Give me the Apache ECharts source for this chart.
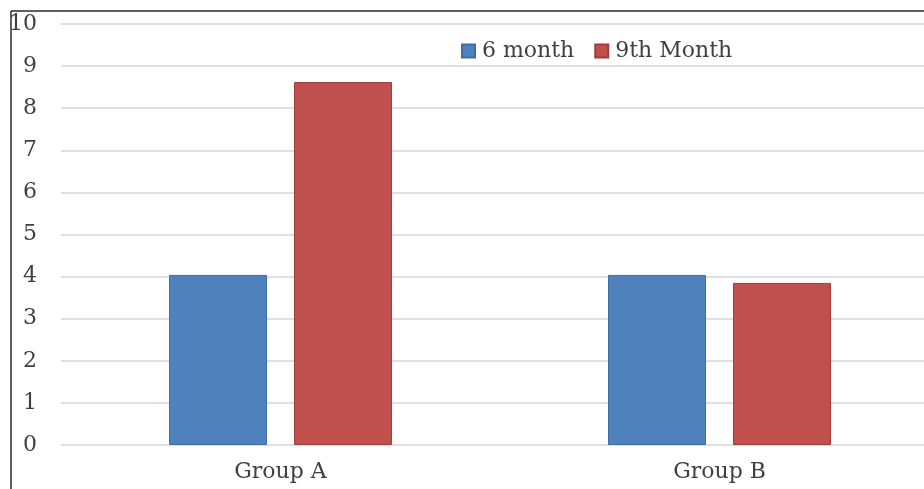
<!DOCTYPE html>
<html>
<head>
<meta charset="utf-8">
<script src="https://cdn.jsdelivr.net/npm/echarts@6/dist/echarts.min.js"></script>
<style>
html,body{margin:0;padding:0;background:#fff;overflow:hidden;width:924px;height:489px;}
#chart{width:940px;height:489px;}
</style>
</head>
<body>
<div id="chart"></div>
<script>
var categories = ['Group A', 'Group B'];
var seriesNames = ['6 month', '9th Month'];
var sixMonth = [4.04, 4.04];
var ninthMonth = [8.62, 3.85];
var yTicks = [0, 1, 2, 3, 4, 5, 6, 7, 8, 9, 10];

var FONT = '"DejaVu Serif", "Liberation Serif", serif';
var chart = echarts.init(document.getElementById('chart'), null, {renderer: 'canvas'});
chart.setOption({
  animation: false,
  backgroundColor: '#ffffff',
  grid: {left: 61, top: 24, width: 878, bottom: 44, containLabel: false},
  legend: {
    left: 461, top: 40, padding: 0,
    itemWidth: 13, itemHeight: 13, itemGap: 20,
    icon: 'rect',
    textStyle: {fontFamily: FONT, fontSize: 22, color: '#404040', padding: [0, 0, 0, 2], lineHeight: 22},
    data: seriesNames
  },
  xAxis: {
    type: 'category',
    data: categories,
    axisLine: {show: false},
    axisTick: {show: false},
    axisLabel: {fontFamily: FONT, fontSize: 22, color: '#404040', margin: 16}
  },
  yAxis: {
    type: 'value',
    min: yTicks[0], max: yTicks[yTicks.length - 1], interval: 1,
    axisLine: {show: false},
    axisTick: {show: false},
    axisLabel: {fontFamily: FONT, fontSize: 22, color: '#404040', margin: 24},
    splitLine: {lineStyle: {color: '#d6d6d6', width: 1.5}}
  },
  series: [
    {
      name: seriesNames[0], type: 'bar', data: sixMonth,
      barWidth: 98, barGap: '27.5%',
      itemStyle: {color: '#4f81bd', borderColor: '#3d6ea8', borderWidth: 1}
    },
    {
      name: seriesNames[1], type: 'bar', data: ninthMonth,
      barWidth: 98, barGap: '27.5%',
      itemStyle: {color: '#c0504d', borderColor: '#a33b38', borderWidth: 1}
    }
  ],
  graphic: [
    {type: 'line', shape: {x1: 11, y1: 11, x2: 940, y2: 11}, style: {stroke: '#2b2b2b', lineWidth: 1.5}, z: 100},
    {type: 'line', shape: {x1: 11, y1: 11, x2: 11, y2: 489}, style: {stroke: '#2b2b2b', lineWidth: 1.5}, z: 100}
  ]
});
</script>
</body>
</html>
